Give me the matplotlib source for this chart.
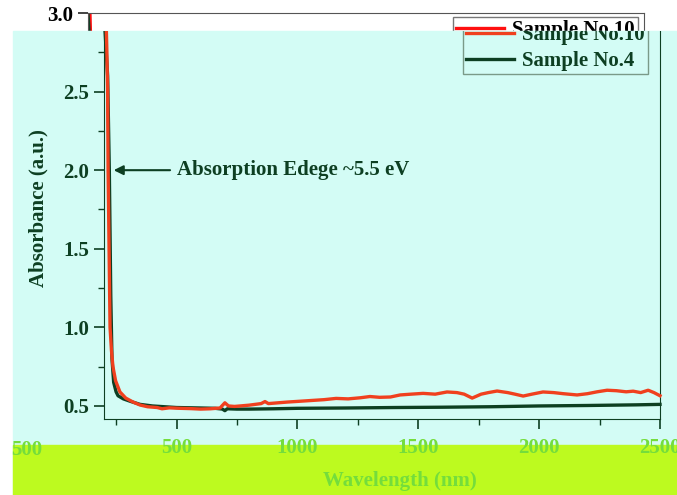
import matplotlib
matplotlib.use('Agg')
import matplotlib.pyplot as plt
from matplotlib.patches import Rectangle

# Sample No.10 (red)
wl_10 = [200, 208, 212, 215, 217, 221, 225, 231, 237, 248, 266, 290, 320, 349, 380,
         420, 440, 470, 514, 560, 600, 640, 680, 700, 715, 740, 763, 800, 825, 850,
         866, 880, 920, 960, 1011, 1060, 1110, 1160, 1210, 1260, 1300, 1340, 1385,
         1425, 1470, 1520, 1570, 1619, 1660, 1690, 1723, 1760, 1790, 1826, 1870,
         1900, 1934, 1970, 2016, 2060, 2100, 2157, 2200, 2240, 2281, 2320, 2360,
         2389, 2420, 2451, 2475, 2500]
abs_10 = [3.05, 3.0, 2.75, 2.5, 2.0, 1.5, 1.0, 0.85, 0.75, 0.66, 0.589, 0.55, 0.525,
          0.506, 0.495, 0.49, 0.482, 0.488, 0.485, 0.483, 0.48, 0.482, 0.487, 0.52,
          0.5, 0.497, 0.5, 0.505, 0.51, 0.515, 0.528, 0.515, 0.52, 0.525, 0.53, 0.535,
          0.54, 0.548, 0.545, 0.552, 0.56, 0.555, 0.557, 0.57, 0.575, 0.58, 0.575,
          0.589, 0.585, 0.575, 0.55, 0.575, 0.585, 0.595, 0.585, 0.575, 0.563, 0.575,
          0.589, 0.585, 0.578, 0.57, 0.578, 0.59, 0.60, 0.597, 0.59, 0.594, 0.585,
          0.60, 0.585, 0.565]

# Sample No.4 (dark green)
wl_4 = [200, 215, 222, 228, 233, 240, 250, 258, 280, 308, 349, 400, 450, 500, 600,
        660, 690, 700, 710, 750, 800, 900, 1000, 1200, 1400, 1600, 1800, 2000,
        2200, 2400, 2500]
abs_4 = [3.0, 2.6, 2.0, 1.2, 0.8, 0.65, 0.59, 0.565, 0.545, 0.53, 0.51, 0.5, 0.495,
         0.49, 0.487, 0.485, 0.48, 0.47, 0.482, 0.48, 0.48, 0.482, 0.485, 0.487, 0.49,
         0.492, 0.495, 0.5, 0.503, 0.507, 0.51]

labels = ['Sample No.10', 'Sample No.4']
x_ticks = [500, 1000, 1500, 2000, 2500]
y_ticks = [0.5, 1.0, 1.5, 2.0, 2.5, 3.0]

W, H = 677, 495
CYAN = '#d3fcf5'
BAND = '#bdfa1f'
GREEN_TXT = '#74dd3c'
DARK = '#0d3f22'
RED = '#f0401e'


def box(x0, y0, x1, y1):
    '''pixel box (from top-left) -> figure fraction [l, b, w, h]'''
    return [x0 / W, 1 - y1 / H, (x1 - x0) / W, (y1 - y0) / H]


def setup(ax, color):
    ax.set_xlim(200, 2500)
    ax.set_ylim(0.417, 3.0)
    ax.set_xticks(x_ticks)
    ax.set_xticks([250, 750, 1250, 1750, 2250], minor=True)
    ax.set_yticks([0.75, 1.25, 1.75, 2.25, 2.75], minor=True)
    ax.tick_params(which='both', direction='out', colors=color, labelsize=15)
    ax.tick_params(which='major', length=7, width=1.2)
    ax.tick_params(which='minor', length=4, width=1.0)
    ax.tick_params(axis='x', pad=7)
    ax.patch.set_visible(False)


def add_legend(ax, anchor, edge):
    return ax.legend(loc='upper right', bbox_to_anchor=anchor, fontsize=15,
                     frameon=True, fancybox=False, edgecolor=edge,
                     facecolor='none', framealpha=1,
                     handlelength=2.3, handletextpad=0.4, borderpad=0.15,
                     labelspacing=0.3, borderaxespad=0)


plt.rcParams['font.family'] = 'Liberation Serif'
plt.rcParams['font.weight'] = 'bold'
plt.rcParams['axes.labelweight'] = 'bold'

fig = plt.figure(figsize=(W / 100, H / 100), dpi=100)

# shifted copy showing through the white strip at the top
ax_top = fig.add_axes(box(88, 13, 644, 419))
ax_top.set_zorder(-3)
setup(ax_top, '#222222')
ax_top.set_yticks(y_ticks)
ax_top.plot(wl_10, abs_10, color='#ff1010', lw=2.4, label=labels[0])
ax_top.plot(wl_4, abs_4, color=DARK, lw=2.4, label=labels[1])
for s in ax_top.spines.values():
    s.set_color('#555555')
ax_top.tick_params(labelcolor='black')
add_legend(ax_top, (0.989, 0.99), '#777777')

fig.add_artist(Rectangle((13 / W, 0), 1, 1 - 31 / H, transform=fig.transFigure,
                         color=CYAN, zorder=-2))
fig.add_artist(Rectangle((13 / W, 0), 1, 1 - 445 / H, transform=fig.transFigure,
                         color=BAND, zorder=-1))

clip = Rectangle((0, 0), 1, 1 - 31 / H, transform=fig.transFigure)

ax = fig.add_axes(box(104, 13, 660, 419))
setup(ax, DARK)
ax.set_yticks(y_ticks[:-1])
ax.tick_params(axis='x', labelcolor=GREEN_TXT)
l1, = ax.plot(wl_10, abs_10, color=RED, lw=2.4, label=labels[0], zorder=3)
l2, = ax.plot(wl_4, abs_4, color=DARK, lw=2.4, label=labels[1], zorder=2)
for s in ax.spines.values():
    s.set_color(DARK)
ax.spines['top'].set_visible(False)

ax.annotate('Absorption Edege ~5.5 eV', xy=(240, 2.0), xytext=(502, 2.0),
            va='center', ha='left', fontsize=15, color=DARK,
            arrowprops=dict(arrowstyle='-|>', color=DARK, lw=1.5,
                            mutation_scale=14, shrinkA=3, shrinkB=0))

ax.set_ylabel('Absorbance (a.u.)', fontsize=15, color=DARK)
ax.yaxis.set_label_coords(-0.10, 0.52)
ax.set_xlabel('Wavelength (nm)', fontsize=15, color=GREEN_TXT)
ax.xaxis.set_label_coords(0.532, -0.128)

leg = add_legend(ax, (0.978, 0.978), '#7a9a88')
for t in leg.get_texts():
    t.set_color(DARK)

for a in [l1, l2] + list(ax.spines.values()) + leg.findobj():
    a.set_clip_path(clip)

fig.text(42 / W, 1 - 450 / H, '500', color=GREEN_TXT, fontsize=15,
         ha='right', va='center')

plt.savefig('out.png', dpi=100)
